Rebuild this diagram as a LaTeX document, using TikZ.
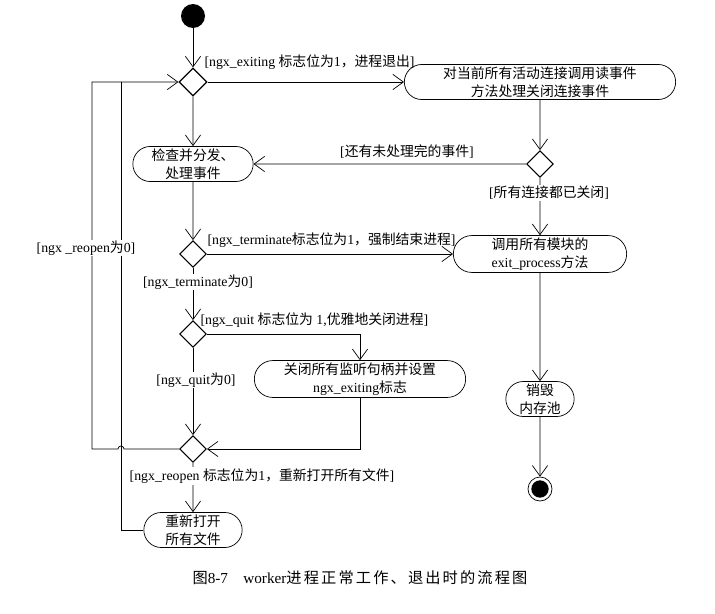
\documentclass[tikz,border=0pt]{standalone}
\usepackage{fontspec}
\setmainfont{Liberation Serif}
\newfontfamily\cjk{Noto Sans CJK SC}
\newfontfamily\cjkcap[LetterSpace=14]{Noto Sans CJK SC}
\newcommand{\zh}[1]{{\cjk #1}}
\usetikzlibrary{calc,shapes.geometric,shapes.misc,arrows.meta}

\begin{document}
\begin{tikzpicture}[x=0.03cm,y=-0.03cm,line width=0.6pt,
  font=\fontsize{11.8}{15}\selectfont,
  act/.style={draw, rounded rectangle, minimum height=1.04cm, inner sep=2pt, align=center},
  dec/.style={draw, diamond, aspect=1, minimum size=0.8cm, inner sep=0pt, line width=1pt},
  lbl/.style={inner sep=1pt},
  arr/.style={-{Straight Barb[length=9pt,width=13pt]}}]

\useasboundingbox (0,0) rectangle (715,614);

% Start and end
\node[circle, fill=black, minimum size=0.72cm, inner sep=0pt] (start) at (193,16) {};
\node[draw, circle, minimum size=0.72cm, inner sep=0pt,
  path picture={\fill (path picture bounding box.center) circle (0.26cm);}] (stop) at (540,489) {};

% Decisions
\node[dec, minimum size=0.84cm] (d1) at (193,82) {};
\node[dec] (d2) at (540,164) {};
\node[dec] (d3) at (193,254) {};
\node[dec] (d4) at (193,334) {};
\node[dec] (d5) at (193,449) {};

% Activities
\node[act, minimum width=8.28cm] (act1) at (540,82) {\zh{对当前所有活动连接调用读事件}\\\zh{方法处理关闭连接事件}};
\node[act, minimum width=3.75cm] (dispatch) at (193,164) {\zh{检查并分发、}\\\zh{处理事件}};
\node[act, minimum width=5.34cm] (exitproc) at (540,254) {\zh{调用所有模块的}\\exit\_process\zh{方法}};
\node[act, minimum width=6.48cm] (closelisten) at (360,379) {\zh{关闭所有监听句柄并设置}\\ngx\_exiting\zh{标志}};
\node[act, minimum width=2.19cm] (pool) at (540,399) {\zh{销毁}\\\zh{内存池}};
\node[act, minimum width=3.09cm] (reopen) at (193,530) {\zh{重新打开}\\\zh{所有文件}};

% Main flow
\draw[arr] (start) -- (d1);
\draw[arr] (d1) -- (act1);
\draw[arr] (d1) -- (dispatch);
\draw[arr] (act1) -- (d2);
\draw[arr] (d2) -- (dispatch);
\draw[arr] (d2) -- (exitproc);
\draw[arr] (dispatch) -- (d3);
\draw[arr] (d3) -- (exitproc);
\draw[arr] (d3) -- (d4);
\draw[arr] (d4) -| (closelisten);
\draw[arr] (d4) -- (d5);
\draw[arr] (closelisten) |- (d5);
\draw[arr] (d5) -- (reopen);
\draw[arr] (exitproc) -- (pool);
\draw[arr] (pool) -- (stop);

% Loops back to the first decision
\coordinate (jump) at (121,449);
\coordinate (loopL) at (92,449);
\coordinate (loopTop) at (92,82);
\coordinate (retTop) at (121,82);
\draw[arr] (d5.west) -- ($(jump)+(3,0)$) arc[start angle=0, end angle=180, radius=0.09cm]
  -- (loopL) -- (loopTop) -- (d1.west);
\draw (reopen.west) -| (retTop);

% Guards
\node[lbl, anchor=west] (gexit) at (203,62) {[ngx\_exiting \zh{标志位为}1\zh{，进程退出}]};
\node[lbl] (gpend) at (407,152) {[\zh{还有未处理完的事件}]};
\node[lbl, fill=white] (gclosed) at (549,193) {[\zh{所有连接都已关闭}]};
\node[lbl, anchor=west] (gterm) at (206,240) {[ngx\_terminate\zh{标志位为}1\zh{，强制结束进程}]};
\node[lbl, fill=white] (gterm0) at (198,282) {[ngx\_terminate\zh{为}0]};
\node[lbl, anchor=west] (gquit) at (199,320) {[ngx\_quit \zh{标志位为} 1,\zh{优雅地关闭进程}]};
\node[lbl, fill=white] (gquit0) at (196,380) {[ngx\_quit\zh{为}0]};
\node[lbl, fill=white] (greopen) at (262,476) {[ngx\_reopen \zh{标志位为}1\zh{，重新打开所有文件}]};
\node[lbl, fill=white] (greopen0) at (86,248) {[ngx \_reopen\zh{为}0]};

% Caption
\node[font=\fontsize{13}{15}\selectfont] (caption) at (360,578) {{\cjkcap 图}8-7\quad worker{\cjkcap 进程正常工作、退出时的流程图}};

\end{tikzpicture}
\end{document}
